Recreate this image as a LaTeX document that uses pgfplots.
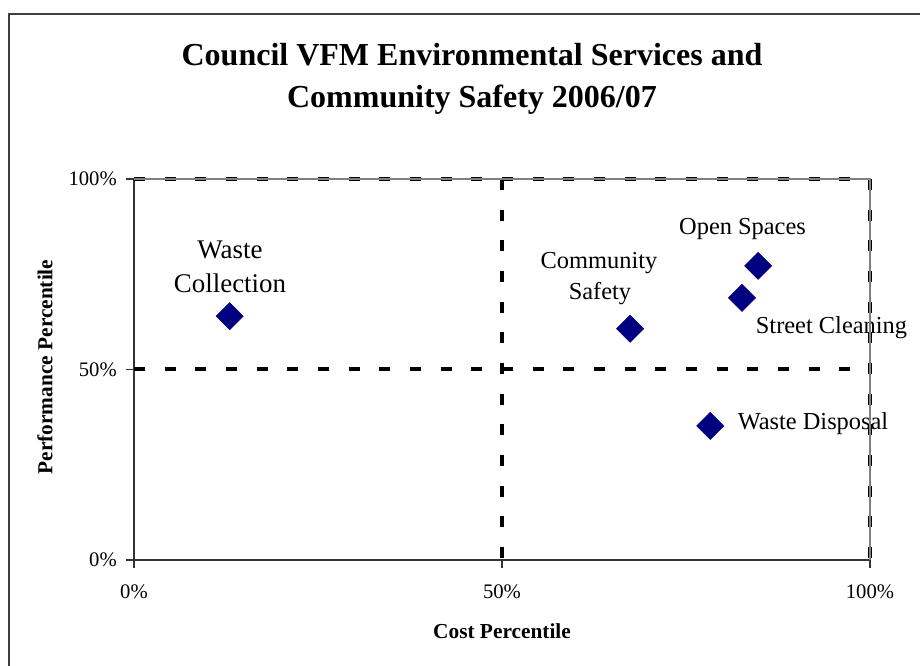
\documentclass[border=0pt]{standalone}
\usepackage{pgfplots}
\pgfplotsset{compat=1.18}
\usepackage{fontspec}
\setmainfont{Liberation Serif}
\definecolor{navy}{HTML}{000080}
\definecolor{framegray}{HTML}{808080}

\begin{document}
\begin{tikzpicture}
\useasboundingbox (0,0) rectangle (690pt,499.5pt);
\fill[white] (0,0) rectangle (690pt,499.5pt);
% outer chart frame (only left and top edges are inside the picture)
\draw[black!75, line width=1.5pt] (6.75pt,-5pt) -- (6.75pt,489pt) -- (700pt,489pt);

% title
\node[anchor=base, font=\bfseries\fontsize{24}{28}\selectfont] at (354pt,450.4pt) {Council VFM Environmental Services and};
\node[anchor=base, font=\bfseries\fontsize{24}{28}\selectfont] at (354pt,418.9pt) {Community Safety 2006/07};

% axis titles
\node[rotate=90, font=\bfseries\fontsize{16}{19}\selectfont] at (33.75pt,224.25pt) {Performance Percentile};
\node[font=\bfseries\fontsize{16}{19}\selectfont] at (376.5pt,26.25pt) {Cost Percentile};

% point labels
\begin{scope}[every node/.style={anchor=base, inner sep=0pt, font=\fontsize{18.3}{22}\selectfont}]
\node[font=\fontsize{20.2}{24}\selectfont] at (172.5pt,305.25pt) {Waste};
\node[font=\fontsize{20.2}{24}\selectfont] at (172.5pt,279.75pt) {Collection};
\node at (449.25pt,297.75pt) {Community};
\node at (450pt,274.5pt) {Safety};
\node at (556.9pt,323.25pt) {Open Spaces};
\node at (623.6pt,249.5pt) {Street Cleaning};
\node at (609.75pt,177pt) {Waste Disposal};
\end{scope}

\begin{axis}[
  name=ax,
  at={(100.5pt,79.5pt)}, anchor=south west,
  scale only axis, width=552pt, height=285.75pt,
  xmin=0, xmax=1, ymin=0, ymax=1,
  clip=false,
  axis x line=bottom, axis y line=left,
  axis line style={-, black!80, line width=1pt},
  xtick={0,0.5,1}, ytick={0,0.5,1},
  xticklabels={0\%,50\%,100\%},
  yticklabels={0\%,50\%,100\%},
  tick align=outside, major tick length=6pt,
  tick style={black!80, line width=1pt},
  ticklabel style={font=\fontsize{15.5}{18}\selectfont},
  yticklabel style={inner sep=0pt, xshift=-6.75pt},
  xticklabel style={inner sep=0pt, yshift=-12.25pt},
  quad/.style={black, line width=3pt, dash pattern=on 8.25pt off 14.75pt},
]
\addplot[quad] coordinates {(0,0.5) (1,0.5)};
\addplot[quad] coordinates {(0.5,1) (0.5,0)};
\addplot[quad] coordinates {(0,1) (1,1)};
\addplot[quad] coordinates {(1,1) (1,0)};
\addplot[only marks, mark=square*, mark size=7.2pt,
  mark options={rotate=45, fill=navy, draw=navy}] coordinates {
  (0.130,0.640) (0.674,0.607) (0.848,0.772) (0.826,0.688) (0.783,0.352)
};
\end{axis}
\draw[framegray, line width=1.5pt] (ax.north west) -- (ax.north east) -- (ax.south east);
\end{tikzpicture}
\end{document}
